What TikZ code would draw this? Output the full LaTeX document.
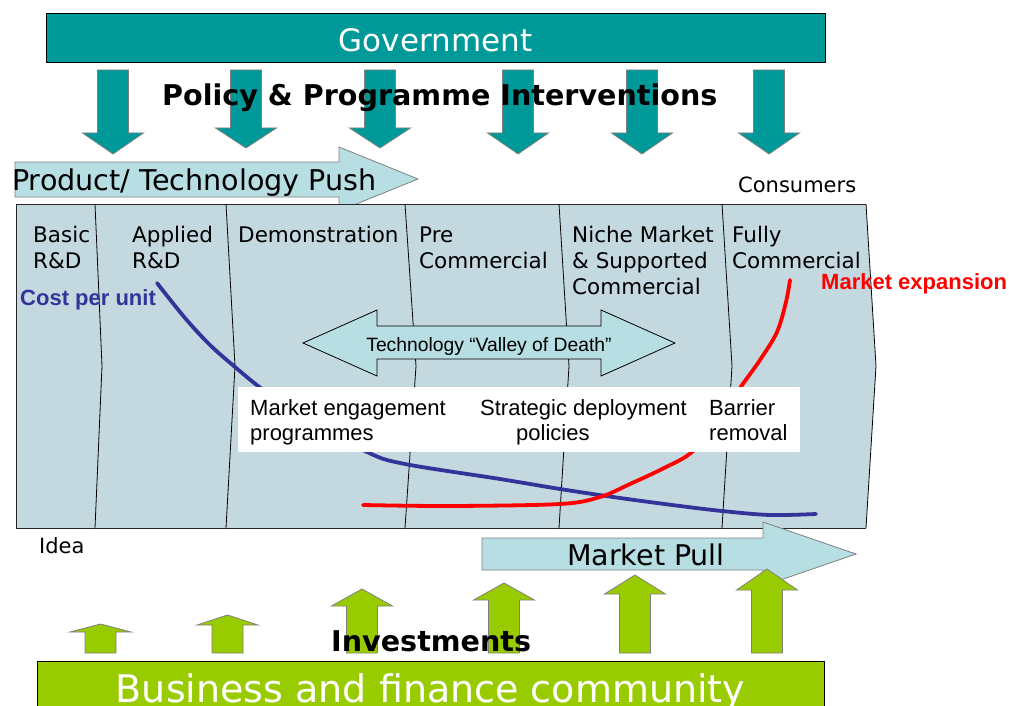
\documentclass[tikz,border=0pt]{standalone}
\usepackage{fontspec}
\setmainfont{DejaVu Sans}
\newfontfamily\arialf{Liberation Sans}
\definecolor{govteal}{HTML}{009999}
\definecolor{pushcyan}{HTML}{B7DEE2}
\definecolor{panelblue}{HTML}{C4D8E0}
\definecolor{bizgreen}{HTML}{99CC00}
\definecolor{costblue}{HTML}{333399}
\definecolor{edgegray}{HTML}{808080}
\tikzset{
  blockarrow/.style={fill=govteal, draw=edgegray, line width=0.8pt},
  uparrow/.style={fill=bizgreen, draw=edgegray, line width=0.8pt},
  pusharrow/.style={fill=pushcyan, draw=edgegray, line width=0.8pt},
  lbl/.style={inner sep=0pt, anchor=base west, align=left},
  stage/.style={lbl, font=\fontsize{21.5}{26}\selectfont},
  small/.style={lbl, font=\fontsize{21}{26}\selectfont},
  boxtxt/.style={lbl, font=\arialf\fontsize{22}{25}\selectfont},
  bigbold/.style={lbl, font=\bfseries\fontsize{28.6}{32}\selectfont},
  divider/.style={draw=black, line width=0.8pt},
  curve/.style={line width=3.8pt, line cap=round, line join=round}
}
\newcommand\govarrow[4]{%
  \draw[blockarrow] ({#1-15.5},#2) -- ({#1+15.5},#2) -- ({#1+15.5},#3) -- ({#1+30.5},#3)
    -- (#1,#4) -- ({#1-30.5},#3) -- ({#1-15.5},#3) -- cycle;}
\newcommand\bizarrow[3]{%
  \draw[uparrow] ({#1-15.5},653) -- ({#1+15.5},653) -- ({#1+15.5},#3) -- ({#1+30.5},#3)
    -- (#1,#2) -- ({#1-30.5},#3) -- ({#1-15.5},#3) -- cycle;}
\begin{document}
\begin{tikzpicture}[x=1pt, y=-1pt]
\useasboundingbox (0,0) rectangle (1009,706);
\clip (0,0) rectangle (1009,706);

% Government
\node[fill=govteal, draw=black, line width=0.8pt, minimum width=779pt, minimum height=49pt, inner sep=0pt, anchor=north west] (gov) at (46,13) {};
\node[lbl, anchor=base, text=white, font=\fontsize{31}{34}\selectfont] (govtxt) at (435.5,51.5) {Government};

% policy arrows
\govarrow{113}{70}{133}{154}
\govarrow{246}{70}{128}{148}
\govarrow{380}{70}{128}{148}
\govarrow{518}{70}{133}{154}
\govarrow{642}{70}{133}{154}
\govarrow{769}{70}{133}{154}
\node[bigbold] (policy) at (162,106) {Policy \& Programme Interventions};

% Product / technology push
\draw[pusharrow] (15,162) -- (339,162) -- (339,147) -- (418,179) -- (339,211) -- (339,197) -- (15,197) -- cycle;
\node[lbl, font=\fontsize{28.6}{32}\selectfont] (push) at (12,190) {Product/ Technology Push};
\node[small] (consumers) at (738,192) {Consumers};

% main panel
\fill[panelblue] (16,204) -- (866,204) -- (876,366) -- (866,528) -- (16,528) -- cycle;
\draw[draw=black!85, line width=0.9pt] (866,204) -- (16,204) -- (16,528) -- (866,528);
\foreach \xt/\xm in {95/102, 226/235, 405/416, 559/569, 722/732, 866/876}
  \draw[divider] (\xt,204) -- (\xm,366) -- (\xt,528);

% stage labels (anchor at baseline of last line)
\node[stage] (basic) at (33,268) {Basic\\R\&D};
\node[stage] (applied) at (132,268) {Applied\\R\&D};
\node[stage] (demo) at (238,242) {Demonstration};
\node[stage] (pre) at (419,268) {Pre\\Commercial};
\node[stage] (niche) at (572,294) {Niche Market\\\& Supported\\Commercial};
\node[stage] (fully) at (732,268) {Fully\\Commercial};

\node[lbl, font=\arialf\bfseries\fontsize{22}{24}\selectfont, text=costblue] (cost) at (20,305) {Cost per unit};
\node[lbl, font=\arialf\bfseries\fontsize{22}{24}\selectfont, text=red] (mexp) at (821,289) {Market expansion};

% curves
\draw[curve, costblue] plot[smooth, tension=0.55] coordinates {(157,283) (185,318) (210,345) (235,367) (262,389) (300,415) (367,452) (405,464) (500,479) (560,489) (620,498) (680,506) (722,511) (770,515) (816,514)};
\draw[curve, red] plot[smooth, tension=0.55] coordinates {(363,505) (450,506) (560,504) (600,497) (630,484) (662,469) (692,452) (718,420) (740,388) (760,360) (777,332) (786,302) (790,280)};

% valley of death
\draw[fill=pushcyan, draw=black, line width=0.8pt] (303,343) -- (377,310) -- (377,326) -- (601,326) -- (601,310) -- (675,343) -- (601,376) -- (601,359) -- (377,359) -- (377,376) -- cycle;
\node[lbl, anchor=base, font=\arialf\fontsize{19.3}{22}\selectfont] (valley) at (489,351) {Technology “Valley of Death”};

% white box
\node[fill=white, minimum width=562pt, minimum height=65pt, inner sep=0pt, anchor=north west] (wbox) at (238,387) {};
\node[boxtxt] (engage) at (250,440) {Market engagement\\programmes};
\node[boxtxt] (strat) at (480,440) {Strategic deployment\\\hspace*{36pt}policies};
\node[boxtxt] (barrier) at (709,440) {Barrier\\removal};

\node[small] (idea) at (39,553) {Idea};

% market pull
\draw[pusharrow] (482,538) -- (763,538) -- (763,522) -- (856,554) -- (763,586) -- (763,570) -- (482,570) -- cycle;
\node[lbl, anchor=base, font=\fontsize{28.5}{32}\selectfont] (pull) at (646,565) {Market Pull};

% investment arrows
\bizarrow{100.5}{624}{632}
\bizarrow{227.5}{615}{625}
\bizarrow{362}{589}{606}
\bizarrow{504}{583}{600}
\bizarrow{635}{575}{594}
\bizarrow{767}{569}{590}
\node[bigbold] (invest) at (331,651) {Investments};

% business
\node[fill=bizgreen, draw=black, line width=0.8pt, minimum width=787pt, minimum height=60pt, inner sep=0pt, anchor=north west] (biz) at (37,661) {};
\node[lbl, anchor=base, text=white, font=\fontsize{38}{42}\selectfont] (biztxt) at (430.5,702) {Business and finance community};
\end{tikzpicture}
\end{document}
